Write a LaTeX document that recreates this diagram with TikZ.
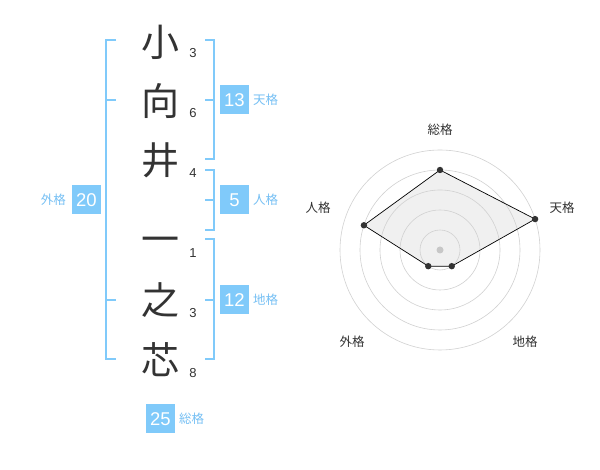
\documentclass[tikz,border=0pt]{standalone}
\usepackage{fontspec}
\setmainfont{Liberation Sans}
\newfontfamily\cjk{Noto Sans CJK JP}
\usepackage{color}
\usepackage{tikz}

\definecolor{kakublue}{RGB}{128,202,250}
\definecolor{kakutext}{RGB}{118,192,244}
\definecolor{ink}{RGB}{51,51,51}

\tikzset{
  kanji/.style={font=\cjk\fontsize{38}{38}\selectfont, text=ink, inner sep=0pt},
  strokes/.style={font=\fontsize{13}{13}\selectfont, text=ink, inner sep=0pt},
  kakubox/.style={fill=kakublue, text=white, minimum size=29pt, inner sep=0pt, font=\fontsize{18.5}{18.5}\selectfont},
  kakuname/.style={text=kakutext, font=\cjk\fontsize{12.5}{12.5}\selectfont, inner sep=0pt},
  bracket/.style={draw=kakublue, line width=2pt},
  ring/.style={draw=black!18, line width=0.6pt},
  axislabel/.style={text=ink, font=\cjk\fontsize{12.5}{12.5}\selectfont, inner sep=0pt}
}

\begin{document}
\begin{tikzpicture}[x=1pt, y=1pt]

   \fill[white] (0,0) rectangle (600,470);
   \useasboundingbox (0,0) rectangle (600,470);

   \node[kanji] (c1) at (160,428) {小};
   \node[kanji] (c2) at (160,369) {向};
   \node[kanji] (c3) at (160,310) {井};
   \node[kanji] (c4) at (160,225) {一};
   \node[kanji] (c5) at (160,170) {之};
   \node[kanji] (c6) at (160,110) {芯};

   \node[strokes] (s1) at (193,417) {3};
   \node[strokes] (s2) at (193,357) {6};
   \node[strokes] (s3) at (193,297) {4};
   \node[strokes] (s4) at (193,217) {1};
   \node[strokes] (s5) at (193,157) {3};
   \node[strokes] (s6) at (193,97) {8};

   \draw[bracket] (116,430) -- (106,430) -- (106,111) -- (116,111);
   \draw[bracket] (106,370) -- (116,370);
   \draw[bracket] (106,170) -- (116,170);

   \draw[bracket] (205,430) -- (214,430) -- (214,311) -- (205,311);
   \draw[bracket] (214,370) -- (205,370);
   \draw[bracket] (205,300) -- (214,300) -- (214,240) -- (205,240);
   \draw[bracket] (214,270) -- (205,270);
   \draw[bracket] (205,231) -- (214,231) -- (214,111) -- (205,111);
   \draw[bracket] (214,170) -- (205,170);

   \node[kakubox] (ten) at (234.5,370) {13};
   \node[kakuname, anchor=west] (tenname) at (253,370) {天格};
   \node[kakubox] (jin) at (234.5,270) {5};
   \node[kakuname, anchor=west] (jinname) at (253,270) {人格};
   \node[kakubox] (chi) at (234.5,170) {12};
   \node[kakuname, anchor=west] (chiname) at (253,170) {地格};
   \node[kakubox] (gai) at (86.5,270) {20};
   \node[kakuname, anchor=east] (gainame) at (66,270) {外格};
   \node[kakubox] (sou) at (160.5,51) {25};
   \node[kakuname, anchor=west] (souname) at (179,51) {総格};

   \coordinate (rsou) at ([shift={(440,220)}]90:80);
   \coordinate (rten) at ([shift={(440,220)}]18:100);
   \coordinate (rchi) at ([shift={(440,220)}]-54:20);
   \coordinate (rgai) at ([shift={(440,220)}]-126:20);
   \coordinate (rjin) at ([shift={(440,220)}]162:80);

   \fill[black!6] (rsou) -- (rten) -- (rchi) -- (rgai) -- (rjin) -- cycle;

   \draw[ring] (440,220) circle (20);
   \draw[ring] (440,220) circle (40);
   \draw[ring] (440,220) circle (60);
   \draw[ring] (440,220) circle (80);
   \draw[ring] (440,220) circle (100);

   \draw[black, line width=0.7pt] (rsou) -- (rten) -- (rchi) -- (rgai) -- (rjin) -- cycle;
   \fill[black!22] (440,220) circle (3.5);
   \fill[ink] (rsou) circle (3.2);
   \fill[ink] (rten) circle (3.2);
   \fill[ink] (rchi) circle (3.2);
   \fill[ink] (rgai) circle (3.2);
   \fill[ink] (rjin) circle (3.2);

   \node[axislabel] (lsou) at (440,340) {総格};
   \node[axislabel] (lten) at (562,262) {天格};
   \node[axislabel] (ljin) at (318,262) {人格};
   \node[axislabel] (lgai) at (352,128) {外格};
   \node[axislabel] (lchi) at (525,128) {地格};

\end{tikzpicture}
\end{document}
